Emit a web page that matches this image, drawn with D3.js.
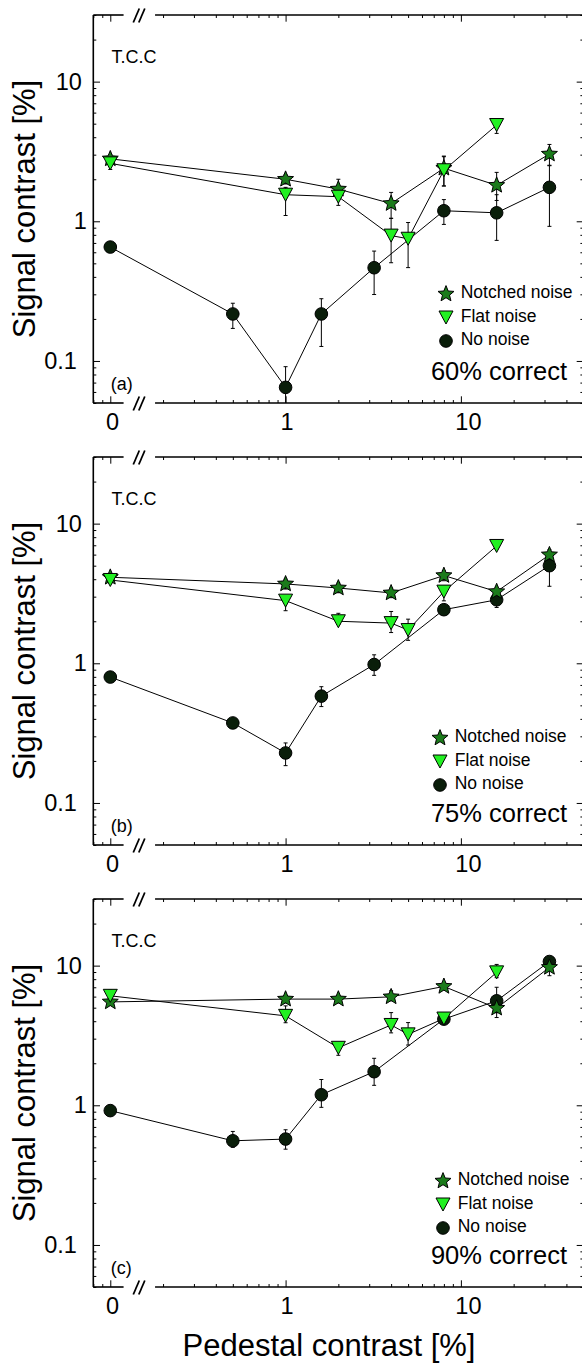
<!DOCTYPE html>
<html><head><meta charset="utf-8">
<script src="https://cdn.jsdelivr.net/npm/d3@7"></script>
<style>
body{margin:0;background:#fff}
svg{display:block}
text{font-family:"Liberation Sans",Arial,Helvetica,sans-serif;fill:#000}
</style>
</head><body>
<svg id="chart" width="582" height="1364"></svg>
<script>
// ---------- data ----------
const notchedX = [0, 1, 2, 4, 8, 16, 32];
const flatX    = [0, 1, 2, 4, 5, 8, 16];
const noneX    = [0, 0.5, 1, 1.6, 3.2, 8, 16, 32];

const notchedA    = [2.8, 2.0, 1.70, 1.34, 2.4, 1.81, 3.03];
const notchedErrA = [[2.6,3.0],[1.85,2.15],[1.55,2.0],[1.05,1.61],[1.79,2.93],[1.41,2.24],[2.52,3.55]];
const flatA       = [2.6, 1.55, 1.50, 0.79, 0.75, 2.32, 4.89];
const flatErrA    = [[2.35,2.9],[1.10,1.75],[1.3,1.65],[0.505,1.05],[0.466,0.98],[1.79,2.9],[4.26,5.3]];
const noneA       = [0.654, 0.217, 0.0647, 0.217, 0.465, 1.19, 1.15, 1.75];
const noneErrA    = [[0.62,0.69],[0.171,0.259],[0.045,0.091],[0.127,0.279],[0.299,0.612],[0.95,1.43],[0.73,1.55],[0.92,2.5]];

const notchedB    = [4.13, 3.7, 3.46, 3.19, 4.25, 3.26, 5.98];
const notchedErrB = [[3.9,4.4],[3.4,4.0],[3.2,3.75],[2.95,3.45],[3.9,4.6],[3.0,3.5],[5.5,6.5]];
const flatB       = [3.95, 2.81, 2.0, 1.94, 1.73, 3.26, 6.92];
const flatErrB    = [[3.75,4.15],[2.38,3.0],[1.9,2.28],[1.66,2.35],[1.46,2.07],[2.8,3.6],[6.6,7.2]];
const noneB       = [0.797, 0.374, 0.228, 0.582, 0.98, 2.42, 2.85, 5.0];
const noneErrB    = [[0.77,0.83],[0.36,0.39],[0.185,0.269],[0.49,0.68],[0.82,1.15],[2.3,2.55],[2.51,3.2],[3.56,6.0]];

const notchedC    = [5.5, 5.76, 5.76, 5.98, 7.1, 4.96, 9.72];
const notchedErrC = [[5.2,5.8],[5.4,6.1],[5.4,6.1],[5.6,6.6],[6.7,7.5],[4.25,5.6],[8.47,10.5]];
const flatC       = [6.08, 4.37, 2.58, 3.76, 3.22, 4.18, 8.95];
const flatErrC    = [[5.8,6.69],[3.9,5.15],[2.28,2.8],[3.3,4.61],[2.7,3.91],[3.9,4.5],[8.2,10.2]];
const noneC       = [0.916, 0.557, 0.573, 1.19, 1.74, 4.14, 5.6, 10.7];
const noneErrC    = [[0.88,0.95],[0.5,0.65],[0.485,0.668],[0.967,1.53],[1.39,2.17],[3.9,4.4],[4.6,7.0],[10.2,11.3]];

const panelTags       = ["(a)", "(b)", "(c)"];
const criterionLabels = ["60% correct", "75% correct", "90% correct"];
const seriesNames     = ["Notched noise", "Flat noise", "No noise"];
const subjectLabel    = "T.C.C";
const xTickValues = [0, 1, 10];
const xTickLabels = ["0", "1", "10"];
const yTickValues = [0.1, 1, 10];
const yTickLabels = ["0.1", "1", "10"];
const xTitle = "Pedestal contrast [%]";
const yTitle = "Signal contrast [%]";

// ---------- layout / style ----------
const panels = [
  {notched: notchedA, notchedErr: notchedErrA, flat: flatA, flatErr: flatErrA, none: noneA, noneErr: noneErrA},
  {notched: notchedB, notchedErr: notchedErrB, flat: flatB, flatErr: flatErrB, none: noneB, noneErr: noneErrB},
  {notched: notchedC, notchedErr: notchedErrC, flat: flatC, flatErr: flatErrC, none: noneC, noneErr: noneErrC}
];
const panelTops = [15, 457, 899];
const panelH = 388;
const legendX = [446, 440, 443];
const legendDY = [0, 2, 3];
const colors = {notched: "#1b7b1b", flat: "#22f022", none: "#0a1e0a"};
const FONT = '"Liberation Sans",Arial,Helvetica,sans-serif';

const svg = d3.select("#chart");
const xs = d3.scaleLog().domain([0.08, 50]).range([93.3, 583.4]);
const zeroAt = 0.1;
const xPos = v => xs(v === 0 ? zeroAt : v);
const gapL = xs(zeroAt) + 13.3, gapR = xs(0.2) - 8;

function starPath(R, ri) {
  const pts = [];
  for (let i = 0; i < 10; i++) {
    const a = -Math.PI / 2 + i * Math.PI / 5;
    const r = i % 2 ? ri : R;
    pts.push([r * Math.cos(a), r * Math.sin(a)]);
  }
  return "M" + pts.map(p => p[0].toFixed(2) + "," + p[1].toFixed(2)).join("L") + "Z";
}
const STAR = starPath(8.4, 3.7);
const TRI = "M-7,-6.5L7,-6.5L0,6.5Z";

function drawMarker(g, kind, x, y) {
  if (kind === "none") {
    g.append("circle").attr("cx", x).attr("cy", y).attr("r", 6.3)
      .attr("fill", colors.none).attr("stroke", "#000").attr("stroke-width", 1);
  } else {
    g.append("path").attr("d", kind === "notched" ? STAR : TRI)
      .attr("transform", `translate(${x},${y})`)
      .attr("fill", colors[kind]).attr("stroke", "#000").attr("stroke-width", 1)
      .attr("stroke-linejoin", "miter");
  }
}

const xLabelDx = {0: 1.7, 1: 1, 10: 7};
const yLabelDx = {0.1: -5, 1: 5, 10: 0};

panels.forEach((P, pi) => {
  const top = panelTops[pi], bottom = top + panelH;
  const ys = d3.scaleLog().domain([0.05, 30]).range([bottom, top]);
  const g = svg.append("g");
  const clipId = "clip" + pi;
  svg.append("clipPath").attr("id", clipId).append("rect")
    .attr("x", xs.range()[0]).attr("y", top).attr("width", xs.range()[1] - xs.range()[0]).attr("height", panelH);

  // ticks
  const allX = xs.ticks().filter(t => !(t > zeroAt && t < 0.2));
  const majorX = xTickValues.map(v => v === 0 ? zeroAt : v);
  const minorX = allX.filter(t => !majorX.some(m => Math.abs(m - t) < 1e-9));
  const allY = ys.ticks();
  const majorY = yTickValues;
  const minorY = allY.filter(t => !majorY.some(m => Math.abs(m - t) < 1e-9));

  const mk = (axis, vals, size, tr) => {
    const a = g.append("g").attr("transform", tr)
      .call(axis.tickValues(vals).tickSizeInner(size).tickSizeOuter(0).tickFormat(""));
    a.select(".domain").remove();
    a.selectAll("line").attr("stroke", "#000").attr("stroke-width", 1);
    return a;
  };
  mk(d3.axisBottom(xs), minorX, -3, `translate(0,${bottom})`);
  mk(d3.axisBottom(xs), majorX, -6.7, `translate(0,${bottom})`);
  mk(d3.axisTop(xs), minorX, -3, `translate(0,${top})`);
  mk(d3.axisTop(xs), majorX, -6.7, `translate(0,${top})`);
  mk(d3.axisLeft(ys), minorY, -3, `translate(${xs.range()[0]},0)`);
  mk(d3.axisLeft(ys), majorY, -6.7, `translate(${xs.range()[0]},0)`);
  mk(d3.axisRight(ys), minorY, -3, `translate(${xs.range()[1]},0)`);
  mk(d3.axisRight(ys), majorY, -6.7, `translate(${xs.range()[1]},0)`);

  // x labels
  const xl = g.append("g").attr("transform", `translate(0,${bottom})`)
    .call(d3.axisBottom(xs).tickValues(majorX).tickSize(0).tickPadding(10.5)
      .tickFormat((d, i) => xTickLabels[i]));
  xl.select(".domain").remove();
  xl.selectAll("text").attr("font-family", FONT).attr("font-size", 23.5).attr("fill", "#000")
    .attr("dx", (d, i) => xLabelDx[xTickValues[i]]);
  // y labels
  const yl = g.append("g").attr("transform", `translate(${xs.range()[0]},0)`)
    .call(d3.axisLeft(ys).tickValues(majorY).tickSize(0).tickPadding(11.5)
      .tickFormat((d, i) => yTickLabels[i]));
  yl.select(".domain").remove();
  yl.selectAll("text").attr("font-family", FONT).attr("font-size", 23.5).attr("fill", "#000")
    .attr("dx", (d, i) => yLabelDx[yTickValues[i]]);

  // frame with axis break
  const fr = g.append("g").attr("stroke", "#000").attr("stroke-width", 1.6).attr("fill", "none");
  const x0 = xs.range()[0], x1 = xs.range()[1];
  [top, bottom].forEach(yy => {
    fr.append("line").attr("x1", x0).attr("x2", gapL).attr("y1", yy).attr("y2", yy);
    fr.append("line").attr("x1", gapR).attr("x2", x1).attr("y1", yy).attr("y2", yy);
    [133.3, 138.8].forEach(sx => {
      fr.append("line").attr("x1", sx).attr("y1", yy + 7.5).attr("x2", sx + 6).attr("y2", yy - 6.5)
        .attr("stroke-width", 1.8);
    });
  });
  fr.append("line").attr("x1", x0).attr("x2", x0).attr("y1", top).attr("y2", bottom);
  fr.append("line").attr("x1", x1).attr("x2", x1).attr("y1", top).attr("y2", bottom);

  // data
  const series = [
    {kind: "none", xv: noneX, yv: P.none, err: P.noneErr},
    {kind: "notched", xv: notchedX, yv: P.notched, err: P.notchedErr},
    {kind: "flat", xv: flatX, yv: P.flat, err: P.flatErr}
  ];
  const dg = g.append("g").attr("clip-path", `url(#${clipId})`);
  // error bars
  series.forEach(s => {
    s.xv.forEach((xv, i) => {
      const [lo, hi] = s.err[i];
      const cx = xPos(xv);
      dg.append("line").attr("x1", cx).attr("x2", cx).attr("y1", ys(lo)).attr("y2", ys(hi))
        .attr("stroke", "#000").attr("stroke-width", 1);
      [lo, hi].forEach(v => dg.append("line").attr("x1", cx - 2).attr("x2", cx + 2)
        .attr("y1", ys(v)).attr("y2", ys(v)).attr("stroke", "#000").attr("stroke-width", 1));
    });
  });
  // lines
  const line = d3.line().x(d => xPos(d[0])).y(d => ys(d[1]));
  series.forEach(s => {
    dg.append("path").attr("d", line(s.xv.map((x, i) => [x, s.yv[i]])))
      .attr("fill", "none").attr("stroke", "#000").attr("stroke-width", 1);
  });
  // markers
  series.forEach(s => {
    s.xv.forEach((xv, i) => drawMarker(dg, s.kind, xPos(xv), ys(s.yv[i])));
  });

  // texts
  g.append("text").attr("x", 111.5).attr("y", top + 48.3).attr("font-size", 18).text(subjectLabel);
  g.append("text").attr("x", 110.7).attr("y", top + 374.5).attr("font-size", 18).text(panelTags[pi]);
  g.append("text").attr("x", 567).attr("y", top + 365.3).attr("font-size", 25.5)
    .attr("text-anchor", "end").text(criterionLabels[pi]);

  // legend
  const lx = legendX[pi], ly = top + 279 + legendDY[pi];
  const kinds = ["notched", "flat", "none"];
  kinds.forEach((k, i) => {
    const yy = ly + i * 23.5;
    drawMarker(g, k, lx, yy);
    g.append("text").attr("x", lx + 14.7).attr("y", yy + 4).attr("font-size", 17.5).text(seriesNames[i]);
  });

  // y title
  g.append("text").attr("transform", `translate(35,${top + panelH / 2}) rotate(-90)`)
    .attr("text-anchor", "middle").attr("font-size", 31).text(yTitle);
});

svg.append("text").attr("x", 329).attr("y", 1356).attr("text-anchor", "middle")
  .attr("font-size", 31).text(xTitle);
</script>
</body></html>
